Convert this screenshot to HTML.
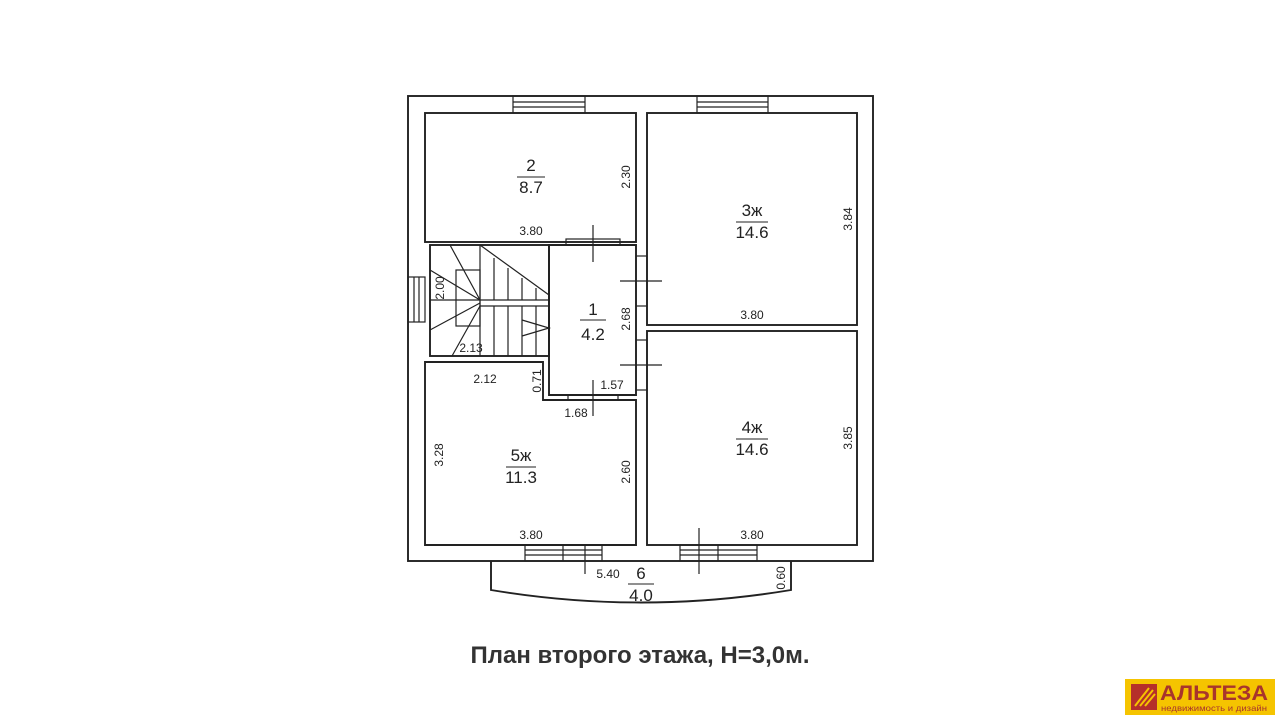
<!DOCTYPE html>
<html><head><meta charset="utf-8"><style>
body{margin:0;background:#fff;width:1280px;height:720px;overflow:hidden;font-family:"Liberation Sans",sans-serif}
svg{position:absolute;left:0;top:0}
</style></head><body>
<svg width="1280" height="720" viewBox="0 0 1280 720" font-family="Liberation Sans, sans-serif" fill="none" stroke="#222" stroke-width="1.9">
<rect x="408" y="96" width="465" height="465"/>
<rect x="425" y="113" width="211" height="129"/>
<rect x="647" y="113" width="210" height="212"/>
<rect x="647" y="331" width="210" height="214"/>
<path d="M425 362 H543 V400 H636 V545 H425 Z"/>
<path d="M549 245 H636 V395 H549 Z"/>
<rect x="430" y="245" width="119" height="111"/>
<g stroke-width="1.2">
<rect x="456" y="270" width="24" height="56"/>
<path d="M480 245 V356 M480 300 H549 M480 306 H549"/>
<path d="M494 306 V356 M508 306 V356 M522 306 V356 M536 306 V356"/>
<path d="M494 258 V300 M508 268 V300 M522 278 V300 M536 288 V300 M480 245 L549 295"/>
<path d="M522 320 L549 328 L522 336"/>
<path d="M450 245 L480 300 M430 270 L480 300 M430 300 H480 M430 330 L480 303 M452 356 L480 306"/>
</g>
<g stroke-width="1.2">
<rect x="513" y="96" width="72" height="17"/><path d="M513 102 H585 M513 107 H585"/>
<rect x="697" y="96" width="71" height="17"/><path d="M697 102 H768 M697 107 H768"/>
<rect x="408" y="277" width="17" height="45"/><path d="M414 277 V322 M419 277 V322"/>
<rect x="525" y="545" width="77" height="16"/><path d="M525 550 H602 M525 555 H602 M563 545 V561"/>
<rect x="680" y="545" width="77" height="16"/><path d="M680 550 H757 M680 555 H757 M718 545 V561"/>
<rect x="566" y="239" width="54" height="6"/><path d="M593 225 V262"/>
<rect x="636" y="256" width="11" height="50"/><path d="M620 281 H662"/>
<rect x="636" y="340" width="11" height="50"/><path d="M620 365 H662"/>
<rect x="568" y="395" width="50" height="5"/><path d="M593 380 V416 M585 545 V574 M699 528 V574"/>
</g>
<path d="M491 561 V590 Q641 615 791 590 V561"/>
<g fill="#222" stroke="none" font-size="14">
<text x="531" y="171" text-anchor="middle" font-size="17">2</text><path d="M517 177 H545" stroke="#222" stroke-width="1"/><text x="531" y="193" text-anchor="middle" font-size="17">8.7</text>
<text x="752" y="216" text-anchor="middle" font-size="17">3ж</text><path d="M736 222 H768" stroke="#222" stroke-width="1"/><text x="752" y="238" text-anchor="middle" font-size="17">14.6</text>
<text x="752" y="433" text-anchor="middle" font-size="17">4ж</text><path d="M736 439 H768" stroke="#222" stroke-width="1"/><text x="752" y="455" text-anchor="middle" font-size="17">14.6</text>
<text x="521" y="461" text-anchor="middle" font-size="17">5ж</text><path d="M506 467 H536" stroke="#222" stroke-width="1"/><text x="521" y="483" text-anchor="middle" font-size="17">11.3</text>
<text x="593" y="315" text-anchor="middle" font-size="17">1</text><path d="M580 320 H606" stroke="#222" stroke-width="1"/><text x="593" y="340" text-anchor="middle" font-size="17">4.2</text>
<text x="641" y="579" text-anchor="middle" font-size="17">6</text><path d="M628 584 H654" stroke="#222" stroke-width="1"/><text x="641" y="601" text-anchor="middle" font-size="17">4.0</text>
<text x="531" y="235" text-anchor="middle" font-size="12">3.80</text>
<text x="752" y="319" text-anchor="middle" font-size="12">3.80</text>
<text x="752" y="539" text-anchor="middle" font-size="12">3.80</text>
<text x="531" y="539" text-anchor="middle" font-size="12">3.80</text>
<text x="485" y="383" text-anchor="middle" font-size="12">2.12</text>
<text x="471" y="352" text-anchor="middle" font-size="12">2.13</text>
<text x="612" y="389" text-anchor="middle" font-size="12">1.57</text>
<text x="576" y="417" text-anchor="middle" font-size="12">1.68</text>
<text x="608" y="578" text-anchor="middle" font-size="12">5.40</text>
<g font-size="12" text-anchor="middle">
<text transform="translate(630,177) rotate(-90)">2.30</text>
<text transform="translate(852,219) rotate(-90)">3.84</text>
<text transform="translate(852,438) rotate(-90)">3.85</text>
<text transform="translate(630,319) rotate(-90)">2.68</text>
<text transform="translate(630,472) rotate(-90)">2.60</text>
<text transform="translate(443,455) rotate(-90)">3.28</text>
<text transform="translate(541,381) rotate(-90)">0.71</text>
<text transform="translate(444,288) rotate(-90)">2.00</text>
<text transform="translate(785,578) rotate(-90)">0.60</text>
</g>
<text x="640" y="663" text-anchor="middle" font-size="24" font-weight="bold" fill="#333">План второго этажа, H=3,0м.</text>
</g>
<rect x="1125" y="679" width="150" height="36" fill="#f5c400" stroke="none"/>
<rect x="1131" y="684" width="26" height="26" fill="#b5302a" stroke="none"/>
<path d="M1135 706 L1149 688 M1140 706 L1153 690 M1145 706 L1155 694" stroke="#f5c400" stroke-width="2"/>
<text x="1160" y="700" fill="#a8342c" stroke="none" font-size="21" font-weight="bold" textLength="108" lengthAdjust="spacingAndGlyphs">АЛЬТЕЗА</text>
<text x="1161" y="711" fill="#a8342c" stroke="none" font-size="8.5" textLength="106" lengthAdjust="spacingAndGlyphs">недвижимость и дизайн</text>
</svg>
</body></html>
